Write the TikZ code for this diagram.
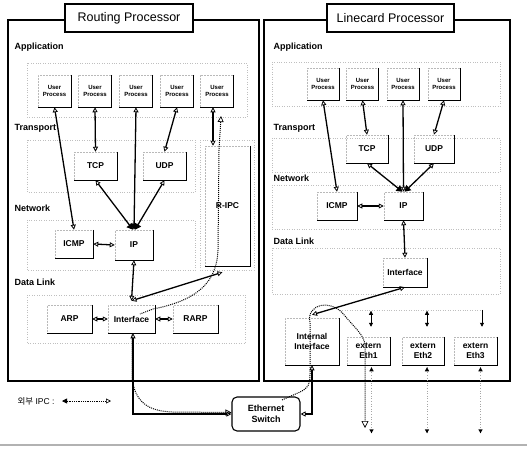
\documentclass[tikz,border=0pt]{standalone}
\usepackage{fontspec}
\setmainfont{Liberation Sans}
\newfontfamily\kofont{Noto Sans CJK KR}
\usetikzlibrary{arrows.meta}
\newcommand\boxedge[1]{\draw[line width=1.1pt] (#1.north east) -- (#1.south east) -- (#1.south west);}
\tikzset{
  pbox/.style={draw=gray!55, densely dotted, line width=0.5pt, inner sep=1pt, align=center,
     font=\bfseries\fontsize{8.5}{9.5}\selectfont},
  upbox/.style={pbox, minimum width=33pt, minimum height=32pt, font=\bfseries\fontsize{6}{7.5}\selectfont},
  region/.style={draw=gray!50, dotted, line width=0.45pt},
  layer/.style={anchor=west, font=\bfseries\fontsize{9}{10}\selectfont},
  outer/.style={draw=black, line width=1.2pt},
  title/.style={draw=black, line width=1.2pt, fill=white, minimum width=128pt, minimum height=28pt,
     font=\fontsize{12.5}{14}\selectfont},
  conn/.style={line width=1.3pt, {Triangle[open, length=5pt, width=5pt, line width=0.8pt]}-{Triangle[open, length=5pt, width=5pt, line width=0.8pt]}},
  connf/.style={line width=1.3pt, {Triangle[open, length=5pt, width=5pt, line width=0.8pt]}-{Triangle[length=6pt, width=7pt]}},
  ipc/.style={densely dotted, line width=1pt},
  small/.style={line width=0.6pt, {Triangle[length=4pt,width=4pt]}-{Triangle[length=4pt,width=4pt]}},
  ext/.style={gray!70, dotted, line width=0.6pt},
}
\begin{document}
\begin{tikzpicture}[x=1pt, y=-1pt]
\useasboundingbox (0,0) rectangle (527,450);
\fill[white] (0,0) rectangle (527,450);

% ---------------- outer boxes
\draw[outer] (8,20) rectangle (259,381);
\draw[outer] (264,20) rectangle (510,381);
\node[title] (rtitle) at (129,18) {Routing Processor};
\node[title, minimum width=127pt] (ltitle) at (390.5,18) {Linecard Processor};

% ---------------- layer regions (RP)
\draw[region] (27,63) rectangle (247,117);
\draw[region] (27,140) rectangle (195,192);
\draw[region] (27,220) rectangle (195,270);
\draw[region] (200,140) rectangle (254,270);
\draw[region] (27,295) rectangle (245,343);
% layer regions (LC)
\draw[region] (272,62) rectangle (500,106);
\draw[region] (272,138) rectangle (500,172);
\draw[region] (272,185) rectangle (500,229);
\draw[region] (272,248) rectangle (500,294);
\draw[region] (340,310) -- (483,310);

% ---------------- layer labels
\node[layer] (ra) at (11,47) {Application};
\node[layer] (rt) at (11,128) {Transport};
\node[layer] (rn) at (11,208) {Network};
\node[layer] (rd) at (11,282) {Data Link};
\node[layer] (la) at (270,47) {Application};
\node[layer] (lt) at (270,128) {Transport};
\node[layer] (ln) at (270,178) {Network};
\node[layer] (ld) at (270,241) {Data Link};

% ---------------- RP boxes
\node[upbox] (rup1) at (54.5,91) {User\\Process};
\node[upbox] (rup2) at (95,91) {User\\Process};
\node[upbox] (rup3) at (136,91) {User\\Process};
\node[upbox] (rup4) at (177,91) {User\\Process};
\node[upbox] (rup5) at (217,91) {User\\Process};
\node[pbox, minimum width=43pt, minimum height=28pt] (rtcp) at (95.5,166) {TCP};
\node[pbox, minimum width=43pt, minimum height=28pt] (rudp) at (164.5,166) {UDP};
\node[pbox, minimum width=45pt, minimum height=120pt] (rripc) at (227.5,206) {R-IPC};
\node[pbox, minimum width=38pt, minimum height=28pt] (ricmp) at (74,244) {ICMP};
\node[pbox, minimum width=38pt, minimum height=30pt] (rip) at (134,245) {IP};
\node[pbox, minimum width=45pt, minimum height=28pt] (rarp) at (69.5,319) {ARP};
\node[pbox, minimum width=47pt, minimum height=28pt] (rif) at (131.5,319) {Interface};
\node[pbox, minimum width=45pt, minimum height=28pt] (rrarp) at (195.5,319) {RARP};
\foreach \n in {rup1,rup2,rup3,rup4,rup5,rtcp,rudp,rripc,ricmp,rip,rarp,rif,rrarp} {\boxedge{\n}}

% ---------------- LC boxes
\node[upbox, minimum width=32pt] (lup1) at (323,84) {User\\Process};
\node[upbox, minimum width=32pt] (lup2) at (362.5,84) {User\\Process};
\node[upbox, minimum width=32pt] (lup3) at (403,84) {User\\Process};
\node[upbox, minimum width=32pt] (lup4) at (444,84) {User\\Process};
\node[pbox, minimum width=42pt, minimum height=28pt] (ltcp) at (367,149) {TCP};
\node[pbox, minimum width=40pt, minimum height=28pt] (ludp) at (434,149) {UDP};
\node[pbox, minimum width=40pt, minimum height=28pt] (licmp) at (337,206) {ICMP};
\node[pbox, minimum width=39pt, minimum height=28pt] (lip) at (403.5,206) {IP};
\node[pbox, minimum width=44pt, minimum height=29pt] (lif) at (405,272.5) {Interface};
\node[pbox, minimum width=54pt, minimum height=47pt] (lii) at (312,341.5) {Internal\\Interface};
\node[pbox, minimum width=43pt, minimum height=28pt] (le1) at (368.5,351) {extern\\Eth1};
\node[pbox, minimum width=42pt, minimum height=28pt] (le2) at (423,351) {extern\\Eth2};
\node[pbox, minimum width=43pt, minimum height=28pt] (le3) at (475.5,351) {extern\\Eth3};
\foreach \n in {lup1,lup2,lup3,lup4,ltcp,ludp,licmp,lip,lif,lii,le1,le2,le3} {\boxedge{\n}}

% ---------------- Ethernet switch
\node[draw=black, line width=1.1pt, rounded corners=5pt, minimum width=68pt, minimum height=34pt,
      align=center, font=\bfseries\fontsize{9}{10.5}\selectfont] (sw) at (266,414) {Ethernet\\Switch};

% ---------------- RP connectors
\draw[conn] (rup1.south) -- (ricmp.north);
\draw[conn] (rup2.south) -- (rtcp.north);
\draw[connf] (rup3.south) -- (rip.north);
\draw[conn] (rup4.south) -- (rudp.north);
\draw[conn] ([xshift=-4pt]rup5.south) -- ([xshift=-4pt]rup5.south |- rripc.north);
\draw[connf] (rtcp.south) -- ([xshift=-1pt]rip.north);
\draw[connf] (rudp.south) -- ([xshift=1pt]rip.north);
\draw[conn] (ricmp.east) -- (rip.west);
\draw[conn] (rip.south) -- ([yshift=4pt]rif.north);
\draw[conn] ([yshift=4pt]rif.north) -- ([xshift=-5pt,yshift=-6pt]rripc.south);
\draw[conn] (rarp.east) -- (rif.west);
\draw[conn] (rif.east) -- (rrarp.west);
\draw[conn] ([xshift=1.5pt]rif.south) |- (sw.west);
\draw[conn] (sw.east) -| (lii.south);

% ---------------- LC connectors
\draw[conn] (lup1.south) -- (licmp.north);
\draw[conn] (lup2.south) -- (ltcp.north);
\draw[conn] (lup3.south) -- (lip.north);
\draw[conn] (lup4.south) -- (ludp.north);
\draw[connf] (ltcp.south) -- ([xshift=-1pt]lip.north);
\draw[connf] (ludp.south) -- ([xshift=1pt]lip.north);
\draw[conn] (licmp.east) -- (lip.west);
\draw[conn] (lip.south) -- (lif.north);
\draw[conn] (lif.south) -- ([yshift=3pt]lii.north);

% extern links
\draw[small] ([xshift=2.5pt,yshift=26pt]le1.north) -- ([xshift=2.5pt,yshift=10pt]le1.north);
\draw[small] ([xshift=4pt,yshift=26pt]le2.north) -- ([xshift=4pt,yshift=10pt]le2.north);
\draw[line width=0.6pt, -{Triangle[length=4pt,width=4pt]}] ([xshift=6.5pt,yshift=27pt]le3.north) -- ([xshift=6.5pt,yshift=10pt]le3.north);
\foreach \n/\dx in {le1/3, le2/4, le3/5} {
  \coordinate (b\n) at ([xshift=\dx pt, yshift=-68pt]\n.south);
  \coordinate (t\n) at ([xshift=\dx pt, yshift=-2pt]\n.south);
  \draw[ext] (t\n) -- (b\n);
  \fill (t\n) ++(-2.2,4) -- ++(2.2,-4) -- ++(2.2,4) -- cycle;
  \fill (b\n) ++(-2.2,-4) -- ++(2.2,4) -- ++(2.2,-4) -- cycle;
}

% ---------------- inter-processor IPC (dotted)
\coordinate (ipcA) at (221,116);
\coordinate (ipcB) at (140,314);
\draw[ipc, {Triangle[open,length=6pt,width=6pt,line width=0.7pt]}-] (ipcA) -- (219,150) -- (218,250)
   .. controls (217,280) and (200,300) .. (153,309) -- (ipcB);
\draw[ipc, -{Triangle[open,length=6pt,width=6pt,line width=0.7pt]}] ([xshift=0.5pt]rif.south)
   -- (132,378) .. controls (135,402) and (148,411) .. (172,412) -- ([yshift=1.5pt]sw.west);
\coordinate (ipcE) at (365,428);
\draw[ipc, -{Triangle[open,length=7pt,width=7pt,line width=0.7pt]}] (282,400) -- (300,392)
   .. controls (308,388) and (310,385) .. (310,375) -- (310,322)
   .. controls (306,304) and (332,298) .. (345,316)
   .. controls (355,328) and (364,335) .. (365,345) -- (ipcE);

% ---------------- legend
\node[anchor=west, font=\fontsize{8.5}{10}\selectfont] (leg) at (14,401) {{\kofont 외부} IPC :};
\coordinate (legA) at (62,401);
\coordinate (legB) at (111,401);
\draw[ipc, line width=0.8pt, {Triangle[length=5pt,width=5pt]}-{Triangle[open,length=5pt,width=5pt,line width=0.6pt]}] (legA) -- (legB);

% ---------------- scan edge line
\draw[gray!60, line width=2pt] (0,445) -- (527,445);
\end{tikzpicture}
\end{document}
